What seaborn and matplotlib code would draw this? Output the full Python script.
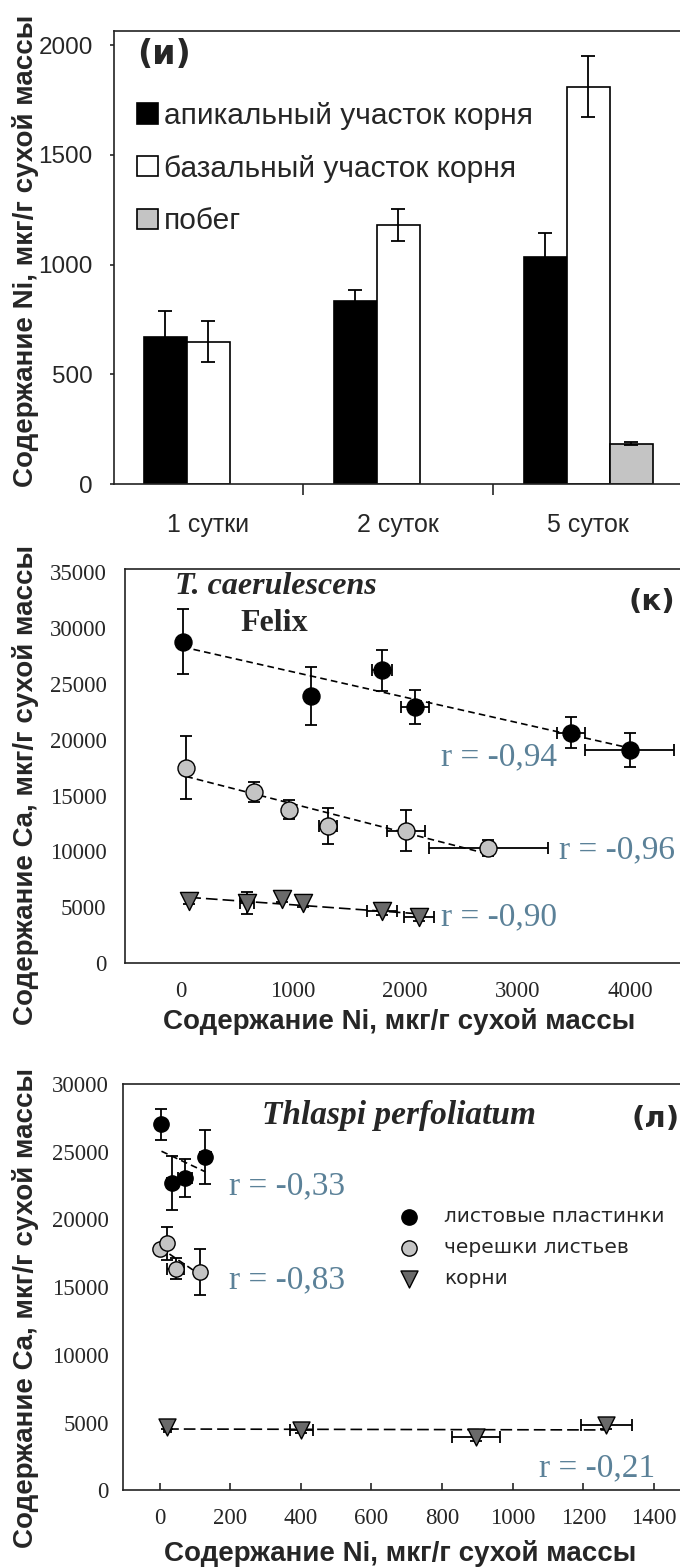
import numpy as np
import pandas as pd
import matplotlib
matplotlib.use('Agg')
import matplotlib.pyplot as plt
import seaborn as sns
from matplotlib import font_manager

# ---- panel (и): Ni in root segments and shoot, by exposure time ----
days = ['1 сутки', '2 суток', '5 суток']
parts = ['апикальный участок корня', 'базальный участок корня', 'побег']
apical_ni = [670, 836, 1034]
apical_err = [120, 50, 112]
basal_ni = [649, 1181, 1811]
basal_err = [93, 73, 138]
shoot_ni = [None, None, 184]
shoot_err = [None, None, 8]

# ---- panel (к): T. caerulescens Felix, Ca vs Ni ----
tc_blade_ni = [20, 1157, 1794, 2083, 3472, 4000]
tc_blade_ni_err = [0, 30, 87, 125, 125, 395]
tc_blade_ca = [28800, 23950, 26210, 22940, 20630, 19090]
tc_blade_ca_err = [2900, 2600, 1800, 1550, 1380, 1500]

tc_petiole_ni = [50, 656, 965, 1312, 2006, 2739]
tc_petiole_ni_err = [0, 0, 40, 80, 170, 530]
tc_petiole_ca = [17500, 15330, 13740, 12300, 11860, 10300]
tc_petiole_ca_err = [2830, 900, 830, 1600, 1800, 750]

tc_root_ni = [77, 590, 899, 1088, 1794, 2122]
tc_root_ni_err = [0, 60, 0, 0, 135, 130]
tc_root_ca = [5580, 5380, 5730, 5380, 4630, 4140]
tc_root_ca_err = [300, 1000, 300, 400, 300, 400]
tc_r = ['r = -0,94', 'r = -0,96', 'r = -0,90']

# ---- panel (л): Thlaspi perfoliatum, Ca vs Ni ----
tp_blade_ni = [5, 36, 72, 129]
tp_blade_ni_err = [10, 15, 20, 15]
tp_blade_ca = [27020, 22680, 23050, 24620]
tp_blade_ca_err = [1150, 1980, 1420, 1990]

tp_petiole_ni = [2, 21, 45, 113]
tp_petiole_ni_err = [0, 0, 25, 0]
tp_petiole_ca = [17800, 18220, 16360, 16110]
tp_petiole_ca_err = [0, 1200, 770, 1700]

tp_root_ni = [21, 401, 895, 1265]
tp_root_ni_err = [10, 33, 68, 72]
tp_root_ca = [4710, 4460, 3970, 4830]
tp_root_ca_err = [200, 200, 300, 300]
tp_r = ['r = -0,33', 'r = -0,83', 'r = -0,21']

organs = ['листовые пластинки', 'черешки листьев', 'корни']

ni_label = 'Содержание Ni, мкг/г сухой массы'
ca_label = 'Содержание Ca, мкг/г сухой массы'

sns.set_style('ticks')
installed = {f.name for f in font_manager.fontManager.ttflist}
narrow = 'Liberation Sans Narrow' if 'Liberation Sans Narrow' in installed else 'Liberation Sans'
plt.rcParams['font.family'] = ['Liberation Sans', 'DejaVu Sans']
plt.rcParams['axes.linewidth'] = 1.2
plt.rcParams['axes.edgecolor'] = '#222222'

SERIF = ['Liberation Serif', 'DejaVu Serif']
R_COLOR = '#5b8198'
GREY = '#c4c4c4'
DARK = '#6a6a6a'
AXIS_FS = 20

fig = plt.figure(figsize=(6.8, 15.67), dpi=100)
ax1 = fig.add_axes([0.167, 0.6911, 0.8374, 0.2891])
ax2 = fig.add_axes([0.1831, 0.3855, 0.8257, 0.2514])
ax3 = fig.add_axes([0.1804, 0.0489, 0.833, 0.2595])

# ------------------------------------------------------------------
# Panel (и) - grouped bars
# ------------------------------------------------------------------
rows = []
for part, vals, errs in zip(parts, [apical_ni, basal_ni, shoot_ni],
                            [apical_err, basal_err, shoot_err]):
    for d, v, e in zip(days, vals, errs):
        if v is not None:
            rows.append({'day': d, 'part': part, 'ni': v, 'err': e})
bars = pd.DataFrame(rows)

sns.barplot(data=bars, x='day', y='ni', hue='part', order=days, hue_order=parts,
            palette=['black', 'white', GREY], edgecolor='black', linewidth=1.2,
            width=0.68, errorbar=None, ax=ax1)

for part, cont in zip(parts, ax1.containers):
    sub = bars[bars['part'] == part]
    for bar, e in zip(cont, sub['err']):
        ax1.errorbar(bar.get_x() + bar.get_width() / 2, bar.get_height(), yerr=e,
                     fmt='none', ecolor='black', elinewidth=1.3, capsize=5, capthick=1.3)

ax1.set_xlim(-0.5, 2.5)
ax1.set_ylim(0, 2065)
ax1.set_yticks([0, 500, 1000, 1500, 2000])
ax1.set_xticks([0.5, 1.5], minor=True)
ax1.tick_params(axis='x', which='major', length=0, pad=21, labelsize=18)
ax1.tick_params(axis='x', which='minor', length=8, width=1.2, direction='out')
ax1.tick_params(axis='y', length=3, width=1.2, labelsize=17.5, pad=12)
ax1.set_xlabel('')
ax1.set_ylabel(ni_label, fontsize=AXIS_FS, fontweight='bold')
ax1.yaxis.set_label_coords(-0.131, 0.514)
ax1.text(0.041, 0.949, '(и)', transform=ax1.transAxes, fontsize=24,
         fontweight='bold', ha='left', va='center', family=['DejaVu Sans'])
ax1.legend(loc='upper left', bbox_to_anchor=(0.021, 0.87), frameon=False,
           handlelength=0.68, handleheight=0.68, handletextpad=0.2,
           labelspacing=0.83, borderaxespad=0,
           prop={'family': narrow, 'size': 21.5})


# ------------------------------------------------------------------
# Scatter panels with error bars and regression lines
# ------------------------------------------------------------------
def organ_series(ax, ni, ni_err, ca, ca_err, color, marker, size, dash, label=None):
    ax.errorbar(ni, ca, xerr=ni_err, yerr=ca_err, fmt='none', ecolor='black',
                elinewidth=1.3, capsize=4, capthick=1.3, zorder=2)
    sns.regplot(x=ni, y=ca, scatter=False, ci=None, color='black', ax=ax,
                line_kws={'ls': (0, dash), 'lw': 1.2, 'zorder': 2.5})
    sns.scatterplot(x=ni, y=ca, marker=marker, s=size, color=color, edgecolor='black',
                    linewidth=1.0, zorder=3, label=label, ax=ax)


def style_scatter_axes(ax):
    for lab in ax.get_xticklabels() + ax.get_yticklabels():
        lab.set_family(SERIF)
        lab.set_fontsize(16.5)
    ax.set_xlabel(ni_label, fontsize=AXIS_FS, fontweight='bold')
    ax.set_ylabel(ca_label, fontsize=AXIS_FS, fontweight='bold')


# Panel (к)
organ_series(ax2, tc_blade_ni, tc_blade_ni_err, tc_blade_ca, tc_blade_ca_err,
             'black', 'o', 150, (4, 2.5))
organ_series(ax2, tc_petiole_ni, tc_petiole_ni_err, tc_petiole_ca, tc_petiole_ca_err,
             GREY, 'o', 150, (4, 2.5))
organ_series(ax2, tc_root_ni, tc_root_ni_err, tc_root_ca, tc_root_ca_err,
             DARK, 'v', 170, (7, 3))
if ax2.get_legend() is not None:
    ax2.get_legend().remove()

ax2.set_xlim(-500, 4500)
ax2.set_ylim(0, 35300)
ax2.set_xticks([0, 1000, 2000, 3000, 4000])
ax2.set_yticks(range(0, 35001, 5000))
ax2.tick_params(axis='x', length=0, pad=13)
ax2.tick_params(axis='y', length=0, pad=13)
style_scatter_axes(ax2)
ax2.xaxis.set_label_coords(0.49, -0.114)
ax2.yaxis.set_label_coords(-0.152, 0.452)

for txt, (x, y) in zip(tc_r, [(2838, 18460), (3888, 10125), (2838, 4122)]):
    ax2.text(x, y, txt, fontsize=24, color=R_COLOR, ha='center', va='center', family=SERIF)
ax2.text(845, 33690, 'T. caerulescens', fontsize=23, fontweight='bold', style='italic',
         ha='center', va='center', family=SERIF)
ax2.text(836, 30380, 'Felix', fontsize=23, fontweight='bold', ha='center', va='center',
         family=SERIF)
ax2.text(4199, 32350, '(к)', fontsize=21, fontweight='bold', ha='center', va='center',
         family=['DejaVu Sans'])

# Panel (л)
organ_series(ax3, tp_blade_ni, tp_blade_ni_err, tp_blade_ca, tp_blade_ca_err,
             'black', 'o', 121, (4, 2.5), organs[0])
organ_series(ax3, tp_petiole_ni, tp_petiole_ni_err, tp_petiole_ca, tp_petiole_ca_err,
             GREY, 'o', 121, (4, 2.5), organs[1])
organ_series(ax3, tp_root_ni, tp_root_ni_err, tp_root_ca, tp_root_ca_err,
             DARK, 'v', 150, (7, 3), organs[2])

ax3.set_xlim(-105, 1500)
ax3.set_ylim(0, 30000)
ax3.set_xticks(range(0, 1401, 200))
ax3.set_yticks(range(0, 30001, 5000))
ax3.tick_params(axis='x', length=5, width=1.2, direction='in', pad=13)
ax3.tick_params(axis='y', length=0, pad=10)
style_scatter_axes(ax3)
ax3.xaxis.set_label_coords(0.49, -0.122)
ax3.yaxis.set_label_coords(-0.148, 0.448)

for txt, (x, y) in zip(tp_r, [(361, 22460), (361, 15520), (1239, 1650)]):
    ax3.text(x, y, txt, fontsize=24, color=R_COLOR, ha='center', va='center', family=SERIF)
ax3.text(678, 27620, 'Thlaspi perfoliatum', fontsize=24, fontweight='bold',
         style='italic', ha='center', va='center', family=SERIF)
ax3.text(1404, 27400, '(л)', fontsize=21, fontweight='bold', ha='center', va='center',
         family=['DejaVu Sans'])
ax3.legend(loc='upper left', bbox_to_anchor=(0.455, 0.716), frameon=False,
           handletextpad=0.75, labelspacing=0.6, borderaxespad=0,
           prop={'family': 'DejaVu Sans', 'size': 14.5})

fig.savefig('out.png', dpi=100, facecolor='white')
